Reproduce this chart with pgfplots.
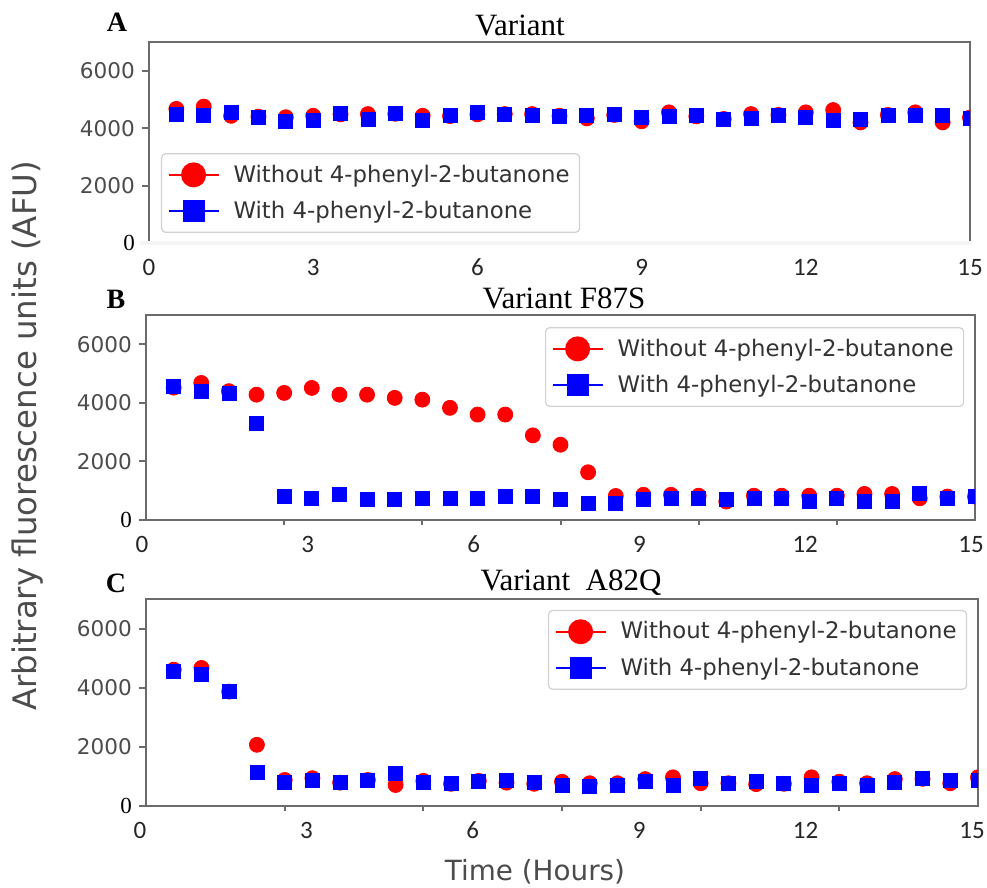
\documentclass[border=0pt]{standalone}
\usepackage{pgfplots}
\pgfplotsset{compat=1.18}
\usepackage{fontspec}
\setmainfont{Liberation Serif}
\newfontfamily\dejavu{DejaVu Sans}
\newfontfamily\carlito{Carlito}
\definecolor{spine}{gray}{0.42}
\definecolor{labgray}{gray}{0.3}

\pgfplotsset{
 panel/.style={
  scale only axis,
  xmin=0, xmax=15, ymin=0, ymax=7000,
  axis line style={spine, line width=1.1pt},
  xtick={0,3,6,9,12,15},
  xticklabels={0,3,6,9,12,15},
  xticklabel style={font=\carlito\fontsize{12.5}{14}\selectfont, text=black!85, yshift=-1pt},
  major x tick style={draw=none},
  xtick pos=bottom,
  ytick={0,2000,4000,6000},
  yticklabels={{\rmfamily\fontsize{11.5}{13}\selectfont\color{black}0},2000,4000,6000},
  yticklabel style={font=\dejavu\fontsize{10.8}{13}\selectfont, text=labgray},
  ytick pos=left, tick align=outside,
  major y tick style={draw=spine, line width=1pt}, major tick length=3.5pt,
  clip marker paths=true,
  legend style={draw=black!18, line width=0.6pt, rounded corners=2pt, fill=white,
    font=\dejavu\fontsize{11.4}{13.5}\selectfont, text=black!80,
    inner xsep=3pt, inner ysep=3.5pt, row sep=4pt, cells={anchor=west}},
  legend image code/.code={\draw[mark repeat=2,mark phase=2,#1] plot coordinates {(0pt,0pt) (12.5pt,0pt) (25pt,0pt)};\path (30pt,0pt);},
 },
 bticks/.style={
  extra x ticks={2.5,5,7.5,10,12.5},
  extra x tick labels={},
  extra x tick style={major x tick style={draw=spine, line width=1pt}, major tick length=2.5pt},
 },
 redm/.style={only marks, mark=*, mark size=3.75pt, color=red, forget plot},
 bluem/.style={only marks, mark=square*, mark size=3.5pt, color=blue, forget plot},
 redleg/.style={red, line width=1pt, mark=*, mark size=5.75pt},
 blueleg/.style={blue, line width=1pt, mark=square*, mark size=5pt},
}

\pgfplotstableread{
x ra ba rb bb rc bc
0.5 4670 4490 4520 4570 4610 4550
1.0 4750 4460 4680 4390 4670 4440
1.5 4430 4560 4400 4340 3870 3870
2.0 4400 4370 4280 3290 2070 1130
2.5 4380 4220 4340 800 880 790
3.0 4430 4260 4510 740 940 880
3.5 4480 4500 4280 860 790 790
4.0 4490 4320 4280 690 880 880
4.5 4500 4500 4170 690 710 1110
5.0 4430 4260 4110 740 850 790
5.5 4420 4430 3830 740 750 750
6.0 4480 4550 3600 740 850 820
6.5 4490 4490 3600 800 790 880
7.0 4490 4460 2890 800 750 790
7.5 4430 4410 2570 690 820 710
8.0 4340 4430 1630 550 770 650
8.5 4460 4490 820 570 770 680
9.0 4240 4370 860 690 910 820
9.5 4550 4410 860 740 970 680
10.0 4410 4430 830 740 770 940
10.5 4320 4290 630 690 770 770
11.0 4490 4340 830 740 740 820
11.5 4460 4460 830 740 750 750
12.0 4550 4370 830 630 970 680
12.5 4630 4260 830 740 820 770
13.0 4200 4320 890 630 770 680
13.5 4460 4460 890 630 910 800
14.0 4550 4430 740 910 920 940
14.5 4200 4430 800 740 770 880
15.0 4370 4340 800 800 970 880
}\datatable

\begin{document}
\begin{tikzpicture}[x=0.5pt, y=-0.5pt]
\useasboundingbox (0,0) rectangle (987,888);

% Panel A
\begin{axis}[panel, at={(74.5pt,-121.5pt)}, anchor=south west, width=410.5pt, height=100.5pt,
  legend style={at={(0.0146,0.05)}, anchor=south west}]
\addlegendimage{redleg}
\addlegendentry{Without 4-phenyl-2-butanone}
\addlegendimage{blueleg}
\addlegendentry{With 4-phenyl-2-butanone}
\addplot[redm] table[x=x, y=ra] {\datatable};
\addplot[bluem] table[x=x, y=ba] {\datatable};
\end{axis}
\draw[gray!8, line width=1.8pt] (140,243) -- (971,243);

% Panel B
\begin{axis}[panel, bticks, at={(73pt,-260pt)}, anchor=south west, width=414.5pt, height=102.5pt,
  xticklabel style={xshift=-2pt},
  legend style={at={(0.987,0.941)}, anchor=north east}]
\addlegendimage{redleg}
\addlegendentry{Without 4-phenyl-2-butanone}
\addlegendimage{blueleg}
\addlegendentry{With 4-phenyl-2-butanone}
\addplot[redm] table[x=x, y=rb] {\datatable};
\addplot[bluem] table[x=x, y=bb] {\datatable};
\end{axis}

% Panel C
\begin{axis}[panel, bticks, at={(73pt,-403pt)}, anchor=south west, width=416pt, height=103.5pt,
  xticklabel style={xshift=-3pt},
  legend style={at={(0.987,0.947)}, anchor=north east}]
\addlegendimage{redleg}
\addlegendentry{Without 4-phenyl-2-butanone}
\addlegendimage{blueleg}
\addlegendentry{With 4-phenyl-2-butanone}
\addplot[redm] table[x=x, y=rc] {\datatable};
\addplot[bluem] table[x=x, y=bc] {\datatable};
\end{axis}

% titles and panel letters
\node[anchor=base, inner sep=0pt, font=\fontsize{15.5}{18}\selectfont] at (520,36) {Variant};
\node[anchor=base, inner sep=0pt, font=\fontsize{15.5}{18}\selectfont] at (564,308) {Variant F87S};
\node[anchor=base, inner sep=0pt, font=\fontsize{15.5}{18}\selectfont] at (571,590) {Variant~~A82Q};
\node[anchor=base, inner sep=0pt, font=\bfseries\fontsize{14}{16}\selectfont] at (117,32) {A};
\node[anchor=base, inner sep=0pt, font=\bfseries\fontsize{14}{16}\selectfont] at (116,308) {B};
\node[anchor=base, inner sep=0pt, font=\bfseries\fontsize{14}{16}\selectfont] at (116,592) {C};

% axis labels
\node[rotate=90, inner sep=0pt, font=\dejavu\fontsize{16.2}{19}\selectfont, text=labgray] at (28,436) {Arbitrary fluorescence units (AFU)};
\node[inner sep=0pt, font=\dejavu\fontsize{13.9}{16}\selectfont, text=labgray] at (535,872) {Time (Hours)};
\end{tikzpicture}
\end{document}
